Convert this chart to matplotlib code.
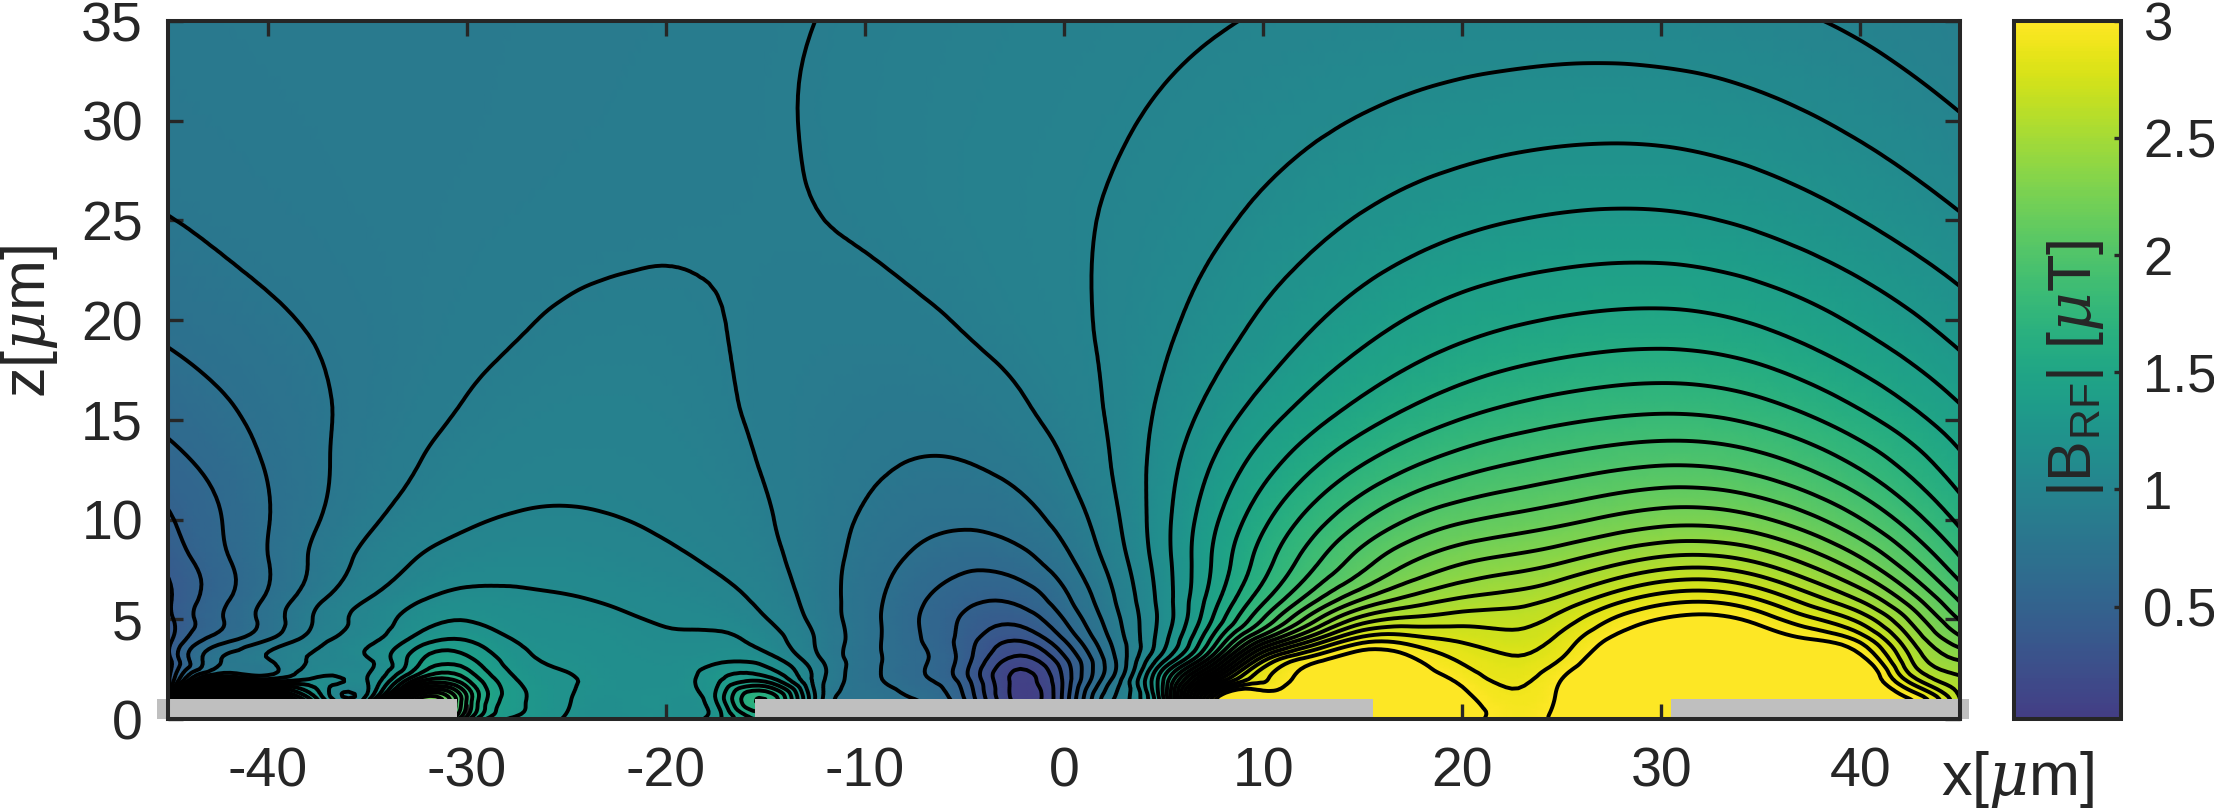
import numpy as np
import matplotlib
matplotlib.use("Agg")
import matplotlib.pyplot as plt
import matplotlib.tri as mtri
from matplotlib.colors import ListedColormap, Normalize
from matplotlib.cm import ScalarMappable
from matplotlib.patches import Rectangle

plt.rcParams["font.family"] = ["Liberation Sans", "DejaVu Sans"]
plt.rcParams["mathtext.fontset"] = "custom"
plt.rcParams["mathtext.rm"] = "Liberation Sans"
plt.rcParams["mathtext.it"] = "DejaVu Serif:italic"

DARK = "#262626"

x_um = [-45, -42.5, -40, -37.5, -35, -32.5, -30, -27.5, -25, -22.5, -20, -17.5, -15,
        -12.5, -10, -7.5, -5, -2.5, 0, 2.5, 5, 7.5, 10, 12.5, 15, 17.5, 20, 22.5, 25,
        27.5, 30, 32.5, 35, 37.5, 40, 42.5, 45]
z_um = [35, 30, 25, 20, 16, 13, 10, 8, 6, 5, 4, 3, 2, 1, 0]

# |B_RF|, one row per z value
b_z35 = [.84, .85, .85, .85, .85, .85, .855, .86, .86, .865, .87, .88, .89, .9, .91, .92, .93, .94, .95, .96, .98, .99, 1.01, 1.02, 1.03, 1.04, 1.045, 1.05, 1.055, 1.055, 1.05, 1.04, 1.03, 1.005, .985, .96, .92]
b_z30 = [.83, .835, .84, .85, .85, .85, .85, .86, .865, .87, .875, .885, .895, .905, .915, .925, .935, .945, .965, .99, 1.015, 1.04, 1.06, 1.08, 1.095, 1.12, 1.135, 1.15, 1.16, 1.165, 1.16, 1.15, 1.13, 1.105, 1.08, 1.05, 1.01]
b_z25 = [.815, .825, .84, .85, .855, .86, .865, .87, .875, .88, .885, .89, .895, .9, .915, .93, .95, .97, .985, 1.01, 1.04, 1.07, 1.1, 1.16, 1.2, 1.24, 1.27, 1.29, 1.3, 1.31, 1.31, 1.29, 1.26, 1.22, 1.17, 1.13, 1.09]
b_z20 = [.73, .78, .79, .81, .83, .85, .87, .89, .905, .915, .92, .91, .89, .875, .875, .89, .915, .95, .98, 1.02, 1.07, 1.14, 1.21, 1.29, 1.35, 1.41, 1.45, 1.48, 1.5, 1.51, 1.52, 1.51, 1.48, 1.44, 1.39, 1.32, 1.25]
b_z16 = [.65, .68, .73, .78, .83, .87, .905, .93, .945, .95, .945, .905, .875, .85, .835, .825, .84, .87, .94, 1.01, 1.1, 1.21, 1.31, 1.41, 1.49, 1.57, 1.63, 1.67, 1.7, 1.73, 1.75, 1.74, 1.71, 1.62, 1.54, 1.47, 1.38]
b_z13 = [.57, .62, .71, .79, .85, .89, .94, .96, .97, .965, .96, .93, .895, .85, .825, .795, .795, .845, .88, .985, 1.17, 1.31, 1.44, 1.58, 1.68, 1.77, 1.84, 1.9, 1.93, 1.95, 1.98, 1.97, 1.93, 1.87, 1.78, 1.66, 1.52]
b_z10 = [.49, .585, .7, .79, .89, .95, .98, 1.015, 1.015, .995, .99, .97, .92, .84, .79, .73, .695, .73, .83, .94, 1.16, 1.41, 1.6, 1.77, 1.92, 2.04, 2.09, 2.1, 2.13, 2.2, 2.26, 2.27, 2.22, 2.1, 2.03, 1.84, 1.66]
b_z8 = [.43, .57, .69, .82, .93, 1.02, 1.04, 1.08, 1.06, 1.04, 1.01, .99, .945, .84, .77, .66, .605, .62, .76, .91, 1.15, 1.42, 1.66, 1.85, 2.05, 2.2, 2.32, 2.31, 2.35, 2.46, 2.52, 2.53, 2.5, 2.32, 2.25, 2.0, 1.8]
b_z6 = [.38, .57, .7, .9, 1.01, 1.1, 1.14, 1.12, 1.115, 1.085, 1.06, 1.05, .985, .85, .75, .62, .5, .45, .68, .9, 1.12, 1.44, 1.74, 2.02, 2.27, 2.41, 2.51, 2.54, 2.6, 2.75, 2.88, 2.92, 2.82, 2.62, 2.52, 2.23, 1.98]
b_z5 = [.37, .59, .72, .93, 1.04, 1.15, 1.21, 1.14, 1.13, 1.12, 1.09, 1.08, 1.02, .87, .74, .6, .47, .38, .58, .86, 1.11, 1.51, 1.91, 2.28, 2.58, 2.63, 2.68, 2.64, 2.73, 2.94, 3.05, 3.08, 2.98, 2.8, 2.68, 2.4, 2.09]
b_z4 = [.36, .64, .76, .97, 1.07, 1.23, 1.3, 1.18, 1.16, 1.14, 1.11, 1.12, 1.06, .89, .75, .62, .45, .28, .52, .85, 1.12, 1.58, 2.08, 2.53, 2.9, 2.85, 2.79, 2.73, 2.83, 3.03, 3.1, 3.15, 3.1, 3.03, 2.9, 2.5, 2.21]
b_z3 = [.36, .76, .9, 1.01, 1.09, 1.35, 1.42, 1.24, 1.18, 1.15, 1.13, 1.16, 1.13, .93, .74, .63, .45, .17, .36, .77, 1.25, 1.85, 2.72, 3.0, 3.12, 3.03, 2.88, 2.81, 2.9, 3.1, 3.15, 3.2, 3.2, 3.15, 3.05, 2.6, 2.4]
b_z2 = [.37, 1.1, 1.0, 1.12, 1.1, 1.6, 1.6, 1.3, 1.21, 1.16, 1.15, 1.27, 1.35, .97, .74, .63, .44, .08, .32, .82, 1.5, 2.4, 2.88, 3.08, 3.15, 3.08, 2.97, 2.87, 3.0, 3.15, 3.2, 3.2, 3.2, 3.2, 3.15, 2.75, 2.52]
b_z1 = [.4, 2.3, 2.0, 1.3, 1.15, 2.2, 1.8, 1.33, 1.21, 1.16, 1.17, 1.3, 1.7, 1.0, .75, .7, .5, .08, .33, .9, 1.5, 2.95, 3.1, 3.2, 3.2, 3.1, 3.03, 2.93, 3.03, 3.2, 3.2, 3.2, 3.2, 3.2, 3.1, 3.0, 2.6]
b_z0 = [.4, 2.3, 2.0, 1.3, 1.15, 2.2, 1.65, 1.28, 1.19, 1.15, 1.17, 1.26, 1.5, 1.0, .75, .7, .5, .08, .33, .9, 1.5, 2.95, 3.1, 3.2, 3.2, 3.1, 3.05, 2.95, 3.05, 3.2, 3.2, 3.2, 3.2, 3.2, 3.1, 3.0, 2.6]

b_rows = [b_z35, b_z30, b_z25, b_z20, b_z16, b_z13, b_z10, b_z8, b_z6, b_z5, b_z4, b_z3, b_z2, b_z1, b_z0]

contour_levels = [round(0.1 * i, 1) for i in range(1, 31)]
b_min = 0.02
b_max = 3

# metal strips under the plane, (left, right) in um
strip_left = [-45.55, -15.5, 30.5]
strip_right = [-30.5, 15.5, 45.45]
strip_height = 1

x_ticks = [-40, -30, -20, -10, 0, 10, 20, 30, 40]
x_labels = ["-40", "-30", "-20", "-10", "0", "10", "20", "30", "40"]
z_ticks = [0, 5, 10, 15, 20, 25, 30, 35]
cb_ticks = [0.5, 1, 1.5, 2, 2.5, 3]
cb_labels = ["0.5", "1", "1.5", "2", "2.5", "3"]


def soften(grid, zs):
    """Take the reading noise out of the grid, away from the strips."""
    out = np.array(grid, dtype=float)
    zs = np.array(zs, dtype=float)
    weight_x = np.clip((zs - 3) / 5, 0, 1)[:, None]
    weight_z = np.clip((zs - 2) / 2, 0, 1)[:, None]
    for _ in range(2):
        along_x = out.copy()
        along_x[:, 1:-1] = 0.25 * out[:, :-2] + 0.5 * out[:, 1:-1] + 0.25 * out[:, 2:]
        out = weight_x * along_x + (1 - weight_x) * out
    along_z = out.copy()
    for i in range(1, len(zs) - 1):
        t = (zs[i] - zs[i + 1]) / (zs[i - 1] - zs[i + 1])
        along_z[i] = 0.5 * out[i] + 0.5 * (t * out[i - 1] + (1 - t) * out[i + 1])
    return weight_z * along_z + (1 - weight_z) * out


W, H = 2214, 809
fig = plt.figure(figsize=(W / 100, H / 100), dpi=100)
ax = fig.add_axes([168 / W, (H - 719) / H, 1792 / W, 698 / H])
cax = fig.add_axes([2014 / W, (H - 719) / H, 107 / W, 698 / H])

cmap = ListedColormap(plt.cm.viridis(np.linspace(0.18, 1, 256)))
norm = Normalize(b_min, b_max, clip=True)

# smooth the read grid with the cubic refiner so lines are not polygonal
xx, zz = np.meshgrid(x_um, z_um)
tri = mtri.Triangulation(xx.ravel(), zz.ravel())
field = soften(b_rows, z_um).ravel()
refiner = mtri.UniformTriRefiner(tri)
tri_fine, field_fine = refiner.refine_field(field, subdiv=3)

ax.tripcolor(tri_fine, np.clip(field_fine, b_min, b_max), shading="gouraud", cmap=cmap, norm=norm)
ax.tricontour(tri_fine, field_fine, levels=contour_levels, colors="k", linewidths=2.8)

for left, right in zip(strip_left, strip_right):
    ax.add_patch(Rectangle((left, 0), right - left, strip_height, color="#bfbfbf", lw=0,
                           clip_on=False, zorder=2.5))

ax.set_xlim(-45, 45)
ax.set_ylim(0, 35)
ax.set_xticks(x_ticks)
ax.set_xticklabels(x_labels)
ax.set_yticks(z_ticks)
ax.tick_params(direction="in", length=11, width=2.4, top=True, right=True, color=DARK,
               labelcolor=DARK, labelsize=40)
ax.tick_params(axis="x", pad=20)
ax.tick_params(axis="y", pad=18)
for spine in ax.spines.values():
    spine.set_linewidth(2.9)
    spine.set_color(DARK)
    spine.set_zorder(5)

cb = fig.colorbar(ScalarMappable(norm=Normalize(b_min, b_max), cmap=cmap), cax=cax)
cb.set_ticks(cb_ticks)
cb.set_ticklabels(cb_labels)
cb.ax.tick_params(direction="in", length=5, width=2.4, color=DARK, labelcolor=DARK,
                  labelsize=38, pad=16)
cb.outline.set_linewidth(2.9)
cb.outline.set_edgecolor(DARK)

fig.text(30 / W, 1 - 322 / H, r"z[$\mu$m]", rotation=90, ha="center", va="center",
         fontsize=44, color=DARK)
fig.text(2017 / W, 1 - 779 / H, r"x[$\mu$m]", ha="center", va="center", fontsize=44, color=DARK)
fig.text(2076 / W, 1 - 368 / H, r"|B$_{\mathrm{RF}}$| [$\mu$T]", rotation=90, ha="center",
         va="center", fontsize=44, color=DARK)

fig.savefig("out.png", dpi=100)
